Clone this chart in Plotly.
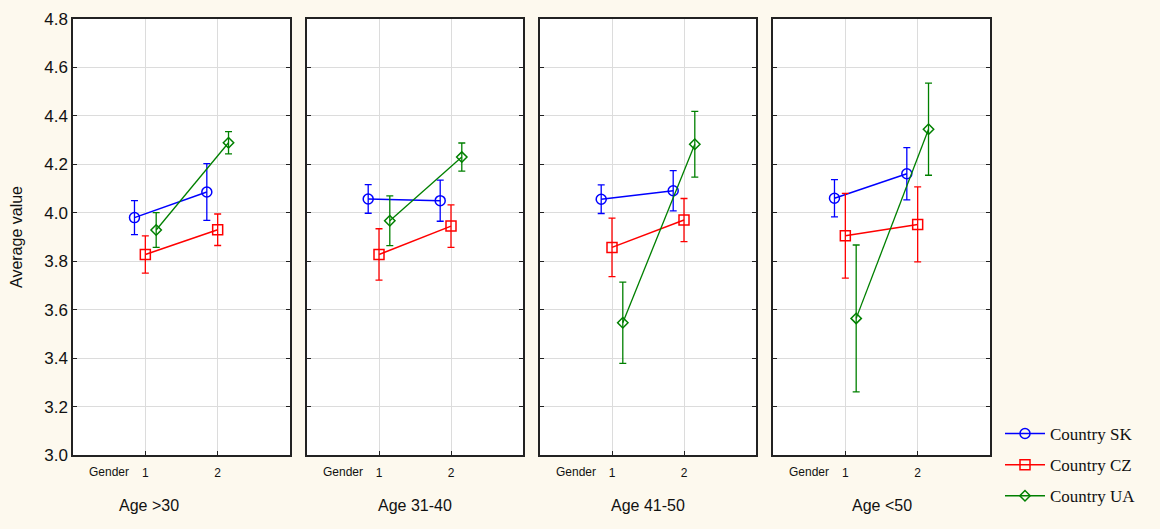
import plotly.graph_objects as go

# ---- data ----
panels = ["Age >30", "Age 31-40", "Age 41-50", "Age <50"]
genders = [1, 2]
countries = ["Country SK", "Country CZ", "Country UA"]

sk_mean = [[3.98, 4.086], [4.057, 4.050], [4.056, 4.091], [4.060, 4.161]]
sk_err = [[0.070, 0.117], [0.059, 0.085], [0.059, 0.083], [0.077, 0.108]]
cz_mean = [[3.828, 3.930], [3.828, 3.945], [3.857, 3.970], [3.905, 3.952]]
cz_err = [[0.077, 0.065], [0.106, 0.088], [0.121, 0.089], [0.175, 0.155]]
ua_mean = [[3.929, 4.289], [3.967, 4.230], [3.546, 4.283], [3.564, 4.345]]
ua_err = [[0.072, 0.046], [0.103, 0.058], [0.168, 0.136], [0.303, 0.190]]

y_ticks = [3.0, 3.2, 3.4, 3.6, 3.8, 4.0, 4.2, 4.4, 4.6, 4.8]

# ---- style ----
means = [sk_mean, cz_mean, ua_mean]
errs = [sk_err, cz_err, ua_err]
colors = ["#0000ff", "#ff0000", "#008000"]
symbols = ["circle-open", "square-open", "diamond-open"]
sizes = [10, 10, 8]
widths = [1.5, 1.5, 1.3]
offsets = [-0.15, 0.0, 0.15]

W, H = 1160, 529
ml, mr, mt, mb = 73, 170, 19, 74
pw = W - ml - mr
px_panels = [(73, 290), (307, 523), (540, 756), (773, 990)]
domains = [((a - ml) / pw, (b - ml) / pw) for a, b in px_panels]

fig = go.Figure()
for p in range(4):
    xa = "x" if p == 0 else f"x{p+1}"
    ya = "y" if p == 0 else f"y{p+1}"
    for c in range(3):
        fig.add_trace(go.Scatter(
            x=[g + offsets[c] for g in genders],
            y=means[c][p],
            error_y=dict(type="data", array=errs[c][p], visible=True,
                         color=colors[c], thickness=1.3, width=3.5),
            mode="lines+markers",
            line=dict(color=colors[c], width=widths[c]),
            marker=dict(symbol=symbols[c], size=sizes[c], color=colors[c],
                        line=dict(width=1.5, color=colors[c])),
            name=countries[c],
            legendgroup=countries[c],
            showlegend=(p == 0),
            xaxis=xa, yaxis=ya,
        ))

layout = dict(
    width=W, height=H,
    paper_bgcolor="#FDF9EE",
    plot_bgcolor="#FFFFFF",
    margin=dict(l=ml, r=mr, t=mt, b=mb, autoexpand=False),
    font=dict(family="Liberation Sans, Arial, sans-serif", color="#111111"),
    legend=dict(x=(1000 - ml) / pw, y=(455 - 416) / 436, xanchor="left", yanchor="top",
                font=dict(family="Liberation Serif, Times New Roman, serif", size=17, color="#111111"),
                bgcolor="rgba(0,0,0,0)", tracegroupgap=6, itemwidth=40),
    showlegend=True,
)
annotations = []
for p in range(4):
    xk = "xaxis" if p == 0 else f"xaxis{p+1}"
    yk = "yaxis" if p == 0 else f"yaxis{p+1}"
    yref = "y" if p == 0 else f"y{p+1}"
    layout[xk] = dict(
        domain=list(domains[p]), range=[0, 3], anchor=yref,
        tickvals=genders, ticktext=[str(g) for g in genders],
        ticks="inside", ticklen=4, tickcolor="#222", ticklabelstandoff=6,
        showgrid=True, gridcolor="#DCDCDC", gridwidth=1,
        showline=True, linecolor="#222", linewidth=1.5, mirror=True,
        tickfont=dict(size=12), zeroline=False, fixedrange=True,
    )
    layout[yk] = dict(
        domain=[0, 1], range=[3.0, 4.8], anchor="x" if p == 0 else f"x{p+1}",
        tickvals=y_ticks, ticktext=[f"{v:.1f}" for v in y_ticks],
        showticklabels=(p == 0),
        ticks="inside", ticklen=4, tickcolor="#222",
        showgrid=True, gridcolor="#DCDCDC", gridwidth=1,
        showline=True, linecolor="#222", linewidth=1.5, mirror="ticks",
        tickfont=dict(size=17), zeroline=False, fixedrange=True,
    )
    a, b = px_panels[p]
    annotations.append(dict(text="Gender", xref="paper", yref="paper",
                            x=(a + 36 - ml) / pw, y=(455 - 472) / 436,
                            xanchor="center", yanchor="middle", showarrow=False,
                            font=dict(size=12)))
    cx = 149 if p == 0 else (a + b) / 2
    annotations.append(dict(text=panels[p], xref="paper", yref="paper",
                            x=(cx - ml) / pw, y=(455 - 505) / 436,
                            xanchor="center", yanchor="middle", showarrow=False,
                            font=dict(size=16)))
layout["yaxis"]["title"] = dict(text="Average value", font=dict(size=16), standoff=18)
layout["annotations"] = annotations
fig.update_layout(**layout)
fig.write_html("out.html", config={"displayModeBar": False},
               post_script="document.body.style.margin='0';")
